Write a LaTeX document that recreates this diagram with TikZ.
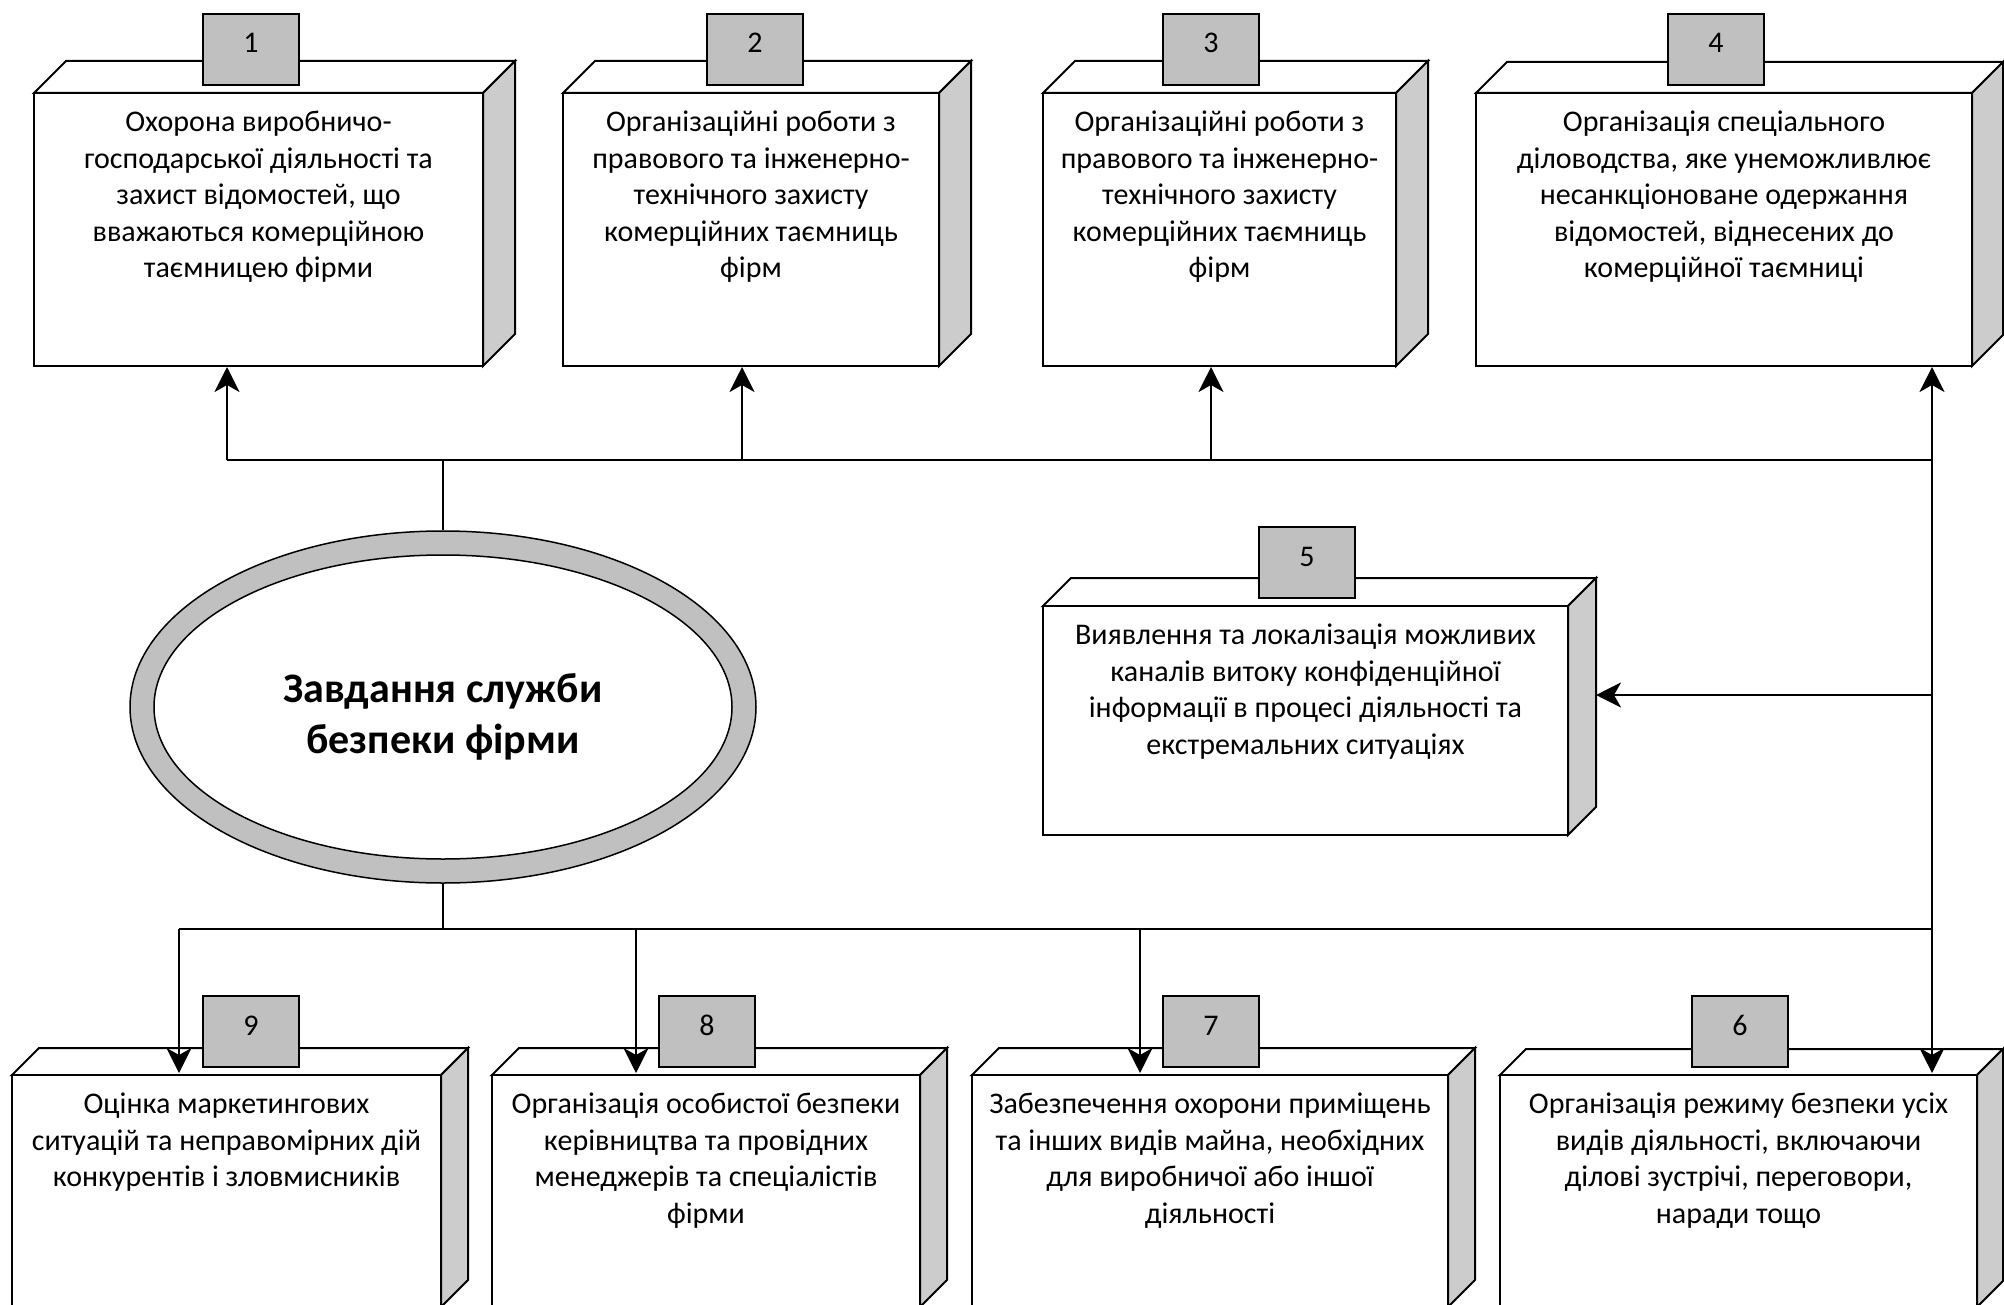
\documentclass[tikz,border=0pt]{standalone}
\usepackage{fontspec}
\setmainfont{Carlito}
\usetikzlibrary{shapes.geometric,arrows.meta}
\definecolor{tabgray}{RGB}{192,192,192}
\definecolor{sidegray}{RGB}{204,204,204}
\tikzset{
  boxline/.style={line width=2pt, draw=black, line join=miter},
  tabbox/.style={boxline, fill=tabgray, minimum width=96pt, minimum height=71pt, inner sep=0pt},
  txt/.style={align=center, inner sep=0pt, font={\fontsize{30}{36.5}\selectfont}},
  numtxt/.style={inner sep=0pt, font={\fontsize{30}{36.5}\selectfont}},
  conn/.style={line width=2.5pt, draw=black},
  arr/.style={conn, -{Stealth[length=25pt,width=25pt,inset=7pt]}}
}
% #1 name, #2 x1, #3 y1 (front top), #4 x2, #5 y2 (front bottom), #6 depth, #7 tab left, #8 number, #9 text
\newcommand{\cubebox}[9]{%
  \draw[boxline, fill=white] (#2,#3) -- ({#2+#6},{#3-#6}) -- ({#4+#6},{#3-#6}) -- (#4,#3) -- cycle;
  \draw[boxline, fill=sidegray] (#4,#3) -- ({#4+#6},{#3-#6}) -- ({#4+#6},{#5-#6}) -- (#4,#5) -- cycle;
  \node[boxline, fill=white, inner sep=0pt, minimum width={(#4-#2)*1pt}, minimum height={(#5-#3)*1pt}] (#1) at ({(#2+#4)/2},{(#3+#5)/2}) {};
  \node[tabbox] (#1tab) at ({#7+48},{#3-43.5}) {};
  \node[numtxt, anchor=base] (#1num) at ({#7+48},{#3-40}) {#8};
  \node[txt, anchor=north] (#1txt) at ({(#2+#4)/2},{#3+13}) {\strut #9};
}
\begin{document}
\begin{tikzpicture}[x=1pt, y=-1pt]
\useasboundingbox (0,0) rectangle (2004,1305);
\clip (0,0) rectangle (2004,1305);
\fill[white] (0,0) rectangle (2004,1305);

% top row
\cubebox{b1}{34}{93}{483}{366}{32}{203}{1}{Охорона виробничо-\\господарської діяльності та\\захист відомостей, що\\вважаються комерційною\\таємницею фірми}
\cubebox{b2}{563}{93}{939}{366}{32}{707}{2}{Організаційні роботи з\\правового та інженерно-\\технічного захисту\\комерційних таємниць\\фірм}
\cubebox{b3}{1043}{93}{1396}{366}{32}{1163}{3}{Організаційні роботи з\\правового та інженерно-\\технічного захисту\\комерційних таємниць\\фірм}
\cubebox{b4}{1476}{93}{1972}{366}{31}{1668}{4}{Організація спеціального\\діловодства, яке унеможливлює\\несанкціоноване одержання\\відомостей, віднесених до\\комерційної таємниці}
% middle
\cubebox{b5}{1043}{606}{1568}{835}{28}{1259}{5}{Виявлення та локалізація можливих\\каналів витоку конфіденційної\\інформації в процесі діяльності та\\екстремальних ситуаціях}
% bottom row
\cubebox{b9}{12}{1075}{441}{1307}{27}{203}{9}{Оцінка маркетингових\\ситуацій та неправомірних дій\\конкурентів і зловмисників}
\cubebox{b8}{492}{1075}{920}{1307}{27}{659}{8}{Організація особистої безпеки\\керівництва та провідних\\менеджерів та спеціалістів\\фірми}
\cubebox{b7}{972}{1075}{1448}{1307}{27}{1163}{7}{Забезпечення охорони приміщень\\та інших видів майна, необхідних\\для виробничої або іншої\\діяльності}
\cubebox{b6}{1500}{1075}{1977}{1307}{26}{1692}{6}{Організація режиму безпеки усіх\\видів діяльності, включаючи\\ділові зустрічі, переговори,\\наради тощо}

% central ellipse
\node[ellipse, draw=black, line width=1.5pt, fill=tabgray, inner sep=0pt, minimum width=626pt, minimum height=352pt] (ell) at (443,707) {};
\node[ellipse, draw=black, line width=1.5pt, fill=white, inner sep=0pt, minimum width=578pt, minimum height=304pt] (ellin) at (443,707) {};
\node[align=center, inner sep=0pt, anchor=north, font={\fontsize{42}{51}\selectfont\bfseries}] (title) at (443,667) {\strut Завдання служби\\безпеки фірми};

% connectors: top bus
\coordinate (jt) at (443,460);
\coordinate (t1) at (227,460);
\coordinate (t2) at (742,460);
\coordinate (t3) at (1211,460);
\coordinate (t4) at (1932,460);
\coordinate (r5) at (1932,695);
\coordinate (b5r) at (1596,695);
\coordinate (jb) at (443,929);
\coordinate (d9) at (179,929);
\coordinate (d8) at (636,929);
\coordinate (d7) at (1140,929);
\coordinate (d6) at (1932,929);

\draw[conn] (ell.north) -- (jt);
\draw[conn] (t1) -- (t4);
\draw[arr] (t1) -- (t1 |- b1.south);
\draw[arr] (t2) -- (t2 |- b2.south);
\draw[arr] (t3) -- (t3 |- b3.south);
\draw[arr] (t4) -- (t4 |- b4.south);
\draw[conn] (t4) -- (d6);
\draw[arr] (r5) -- (b5r);

% bottom bus
\draw[conn] (ell.south) -- (jb);
\draw[conn] (d9) -- (d6);
\draw[arr, shorten >=1pt] (d9) -- (d9 |- b9.north);
\draw[arr, shorten >=1pt] (d8) -- (d8 |- b8.north);
\draw[arr, shorten >=1pt] (d7) -- (d7 |- b7.north);
\draw[arr, shorten >=1pt] (d6) -- (d6 |- b6.north);
\end{tikzpicture}
\end{document}
